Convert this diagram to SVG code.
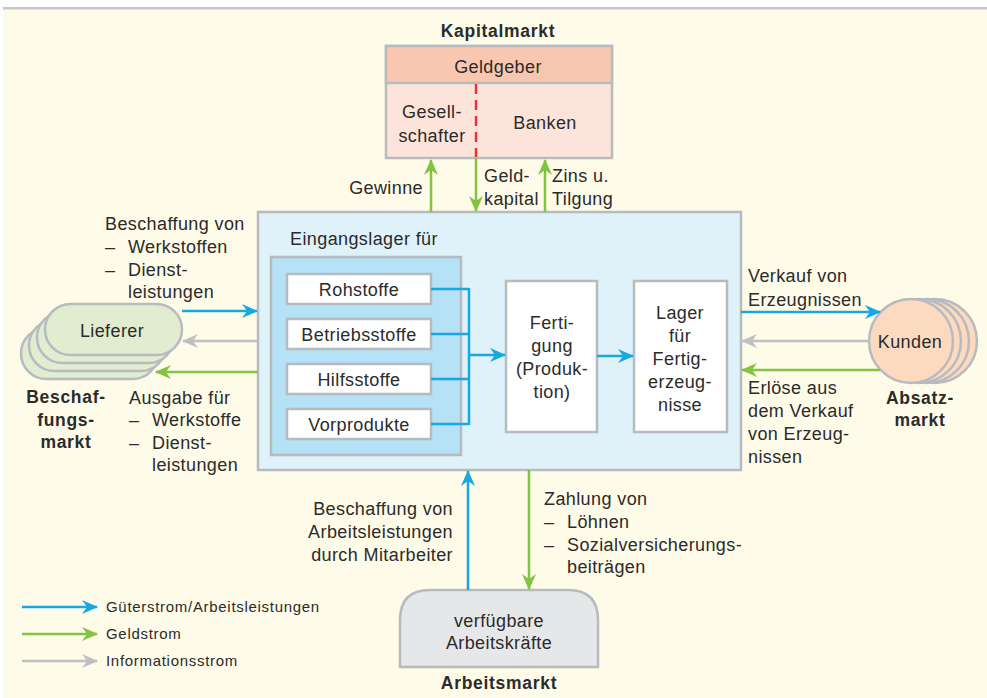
<svg xmlns="http://www.w3.org/2000/svg" width="987" height="698" viewBox="0 0 987 698">
<defs>
<style>
text{font-family:"Liberation Sans",Arial,sans-serif;font-size:18px;letter-spacing:0.4px;fill:#2b2b2b}
.b{font-weight:bold;font-size:17.5px;letter-spacing:0.7px}
.m{text-anchor:middle}
.e{text-anchor:end}
.lg{font-size:15px;letter-spacing:0.7px}
.box{stroke:#b7bbbf;stroke-width:2.5}
.blue{stroke:#16a9e1;stroke-width:2.5;fill:none}
.green{stroke:#82c341;stroke-width:2.5;fill:none}
.gray{stroke:#bfc0c4;stroke-width:2.5;fill:none}
</style>
<marker id="ab" markerUnits="userSpaceOnUse" markerWidth="16" markerHeight="14" refX="15" refY="7" orient="auto"><path d="M0,0 L16,7 L0,14 L5,7 z" fill="#16a9e1"/></marker>
<marker id="ag" markerUnits="userSpaceOnUse" markerWidth="16" markerHeight="14" refX="15" refY="7" orient="auto"><path d="M0,0 L16,7 L0,14 L5,7 z" fill="#82c341"/></marker>
<marker id="ay" markerUnits="userSpaceOnUse" markerWidth="16" markerHeight="14" refX="15" refY="7" orient="auto"><path d="M0,0 L16,7 L0,14 L5,7 z" fill="#bfc0c4"/></marker>
</defs>
<rect x="0" y="0" width="987" height="698" fill="#ffffff"/>
<rect x="3" y="8" width="984" height="690" fill="#fefbe8"/>
<rect x="3" y="7" width="984" height="2.5" fill="#c6c6c6"/>

<g id="kapitalmarkt">
<text class="b m" x="498" y="37">Kapitalmarkt</text>
<rect x="386" y="46" width="226" height="112" fill="#fde4da" class="box"/>
<rect x="386" y="46" width="226" height="37" fill="#f9c7b0" class="box"/>
<line x1="476" y1="84" x2="476" y2="157" stroke="#e8343a" stroke-width="2.5" stroke-dasharray="10,6"/>
<text class="m" x="498" y="73">Geldgeber</text>
<text class="m" x="432" y="118">Gesell-</text>
<text class="m" x="432" y="142">schafter</text>
<text class="m" x="545" y="129">Banken</text>
</g>

<g id="unternehmen">
<rect x="258" y="212" width="483" height="258" fill="#dff2fa" class="box"/>
<text x="290" y="245">Eingangslager für</text>
<rect x="271" y="257" width="190" height="198" fill="#b5e2f6" class="box"/>
</g>
<g id="rohstoffe"><rect x="287" y="274" width="144" height="30" fill="#fff" class="box"/><text class="m" x="359" y="296">Rohstoffe</text></g>
<g id="betriebsstoffe"><rect x="287" y="319" width="144" height="30" fill="#fff" class="box"/><text class="m" x="359" y="341">Betriebsstoffe</text></g>
<g id="hilfsstoffe"><rect x="287" y="364" width="144" height="30" fill="#fff" class="box"/><text class="m" x="359" y="386">Hilfsstoffe</text></g>
<g id="vorprodukte"><rect x="287" y="409" width="144" height="30" fill="#fff" class="box"/><text class="m" x="359" y="431">Vorprodukte</text></g>
<g id="fertigung"><rect x="506" y="281" width="91" height="151" fill="#fff" class="box"/>
<text class="m" x="552" y="329">Ferti-</text><text class="m" x="552" y="352">gung</text><text class="m" x="552" y="375">(Produk-</text><text class="m" x="552" y="398">tion)</text></g>
<g id="lager"><rect x="634" y="281" width="93" height="151" fill="#fff" class="box"/>
<text class="m" x="680" y="319">Lager</text><text class="m" x="680" y="342">für</text><text class="m" x="680" y="365">Fertig-</text><text class="m" x="680" y="388">erzeug-</text><text class="m" x="680" y="411">nisse</text></g>

<g id="lieferer">
<rect x="21" y="328" width="137" height="51" rx="25.5" fill="#e1ecd0" class="box"/>
<rect x="29" y="320" width="137" height="51" rx="25.5" fill="#e1ecd0" class="box"/>
<rect x="37" y="312" width="137" height="51" rx="25.5" fill="#e1ecd0" class="box"/>
<rect x="45" y="304" width="137" height="51" rx="25.5" fill="#e1ecd0" class="box"/>
<text class="m" x="112" y="337">Lieferer</text>
<text class="b m" x="66" y="403">Beschaf-</text>
<text class="b m" x="66" y="426">fungs-</text>
<text class="b m" x="66" y="448">markt</text>
</g>

<g id="kunden">
<circle cx="935" cy="341" r="42" fill="#fbdabf" class="box"/>
<circle cx="927" cy="341" r="42" fill="#fbdabf" class="box"/>
<circle cx="919" cy="341" r="42" fill="#fbdabf" class="box"/>
<circle cx="911" cy="341" r="42" fill="#fbdabf" class="box"/>
<text class="m" x="910" y="348">Kunden</text>
<text class="b m" x="920" y="404">Absatz-</text>
<text class="b m" x="920" y="426">markt</text>
</g>

<g id="arbeitsmarkt">
<path d="M400,667 V620 Q400,590 430,590 H568 Q598,590 598,620 V667 Z" fill="#e6e7e9" class="box"/>
<text class="m" x="499" y="627">verfügbare</text>
<text class="m" x="499" y="649">Arbeitskräfte</text>
<text class="b m" x="499" y="689">Arbeitsmarkt</text>
</g>

<g id="connectors">
<line class="green" x1="431" y1="212" x2="431" y2="160" marker-end="url(#ag)"/>
<line class="green" x1="476" y1="158" x2="476" y2="211" marker-end="url(#ag)"/>
<line class="green" x1="545" y1="212" x2="545" y2="160" marker-end="url(#ag)"/>
<path class="blue" d="M431,289 H469 M431,334 H469 M431,379 H469 M431,424 H469 M469,288 V425"/>
<line class="blue" x1="469" y1="355" x2="505" y2="355" marker-end="url(#ab)"/>
<line class="blue" x1="597" y1="356" x2="633" y2="356" marker-end="url(#ab)"/>
<line class="blue" x1="182" y1="311" x2="257" y2="311" marker-end="url(#ab)"/>
<line class="gray" x1="258" y1="341" x2="183" y2="341" marker-end="url(#ay)"/>
<line class="green" x1="258" y1="372" x2="156" y2="372" marker-end="url(#ag)"/>
<line class="blue" x1="741" y1="312" x2="880" y2="312" marker-end="url(#ab)"/>
<line class="gray" x1="869" y1="341" x2="742" y2="341" marker-end="url(#ay)"/>
<line class="green" x1="880" y1="370" x2="742" y2="370" marker-end="url(#ag)"/>
<line class="blue" x1="468" y1="590" x2="468" y2="471" marker-end="url(#ab)"/>
<line class="green" x1="529" y1="470" x2="529" y2="589" marker-end="url(#ag)"/>
</g>

<g id="labels">
<text class="e" x="423" y="194">Gewinne</text>
<text x="484" y="182">Geld-</text>
<text x="484" y="205">kapital</text>
<text x="552" y="182">Zins u.</text>
<text x="552" y="205">Tilgung</text>
<text x="105" y="230">Beschaffung von</text>
<text x="105" y="253">–</text><text x="128" y="253">Werkstoffen</text>
<text x="105" y="276">–</text><text x="128" y="276">Dienst-</text>
<text x="128" y="298">leistungen</text>
<text x="129" y="404">Ausgabe für</text>
<text x="129" y="426">–</text><text x="152" y="426">Werkstoffe</text>
<text x="129" y="449">–</text><text x="152" y="449">Dienst-</text>
<text x="152" y="471">leistungen</text>
<text x="748" y="282">Verkauf von</text>
<text x="748" y="306">Erzeugnissen</text>
<text x="748" y="394">Erlöse aus</text>
<text x="748" y="417">dem Verkauf</text>
<text x="748" y="440">von Erzeug-</text>
<text x="748" y="463">nissen</text>
<text class="e" x="453" y="515">Beschaffung von</text>
<text class="e" x="453" y="538">Arbeitsleistungen</text>
<text class="e" x="453" y="561">durch Mitarbeiter</text>
<text x="544" y="505">Zahlung von</text>
<text x="544" y="528">–</text><text x="567" y="528">Löhnen</text>
<text x="544" y="551">–</text><text x="567" y="551">Sozialversicherungs-</text>
<text x="567" y="573">beiträgen</text>
</g>

<g id="legend">
<line class="blue" x1="22" y1="607" x2="97" y2="607" marker-end="url(#ab)"/>
<line class="green" x1="22" y1="634" x2="97" y2="634" marker-end="url(#ag)"/>
<line class="gray" x1="22" y1="661" x2="97" y2="661" marker-end="url(#ay)"/>
<text class="lg" x="106" y="612">Güterstrom/Arbeitsleistungen</text>
<text class="lg" x="106" y="639">Geldstrom</text>
<text class="lg" x="106" y="666">Informationsstrom</text>
</g>
</svg>
